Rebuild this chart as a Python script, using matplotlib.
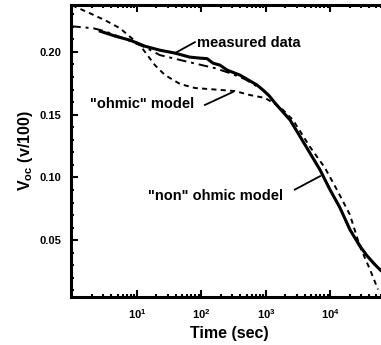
import numpy as np
import matplotlib
matplotlib.use("Agg")
import matplotlib.pyplot as plt
from matplotlib.ticker import LogLocator, MultipleLocator, NullFormatter

plt.rcParams['font.family'] = 'Liberation Sans'
plt.rcParams['font.weight'] = 'bold'
plt.rcParams['axes.labelweight'] = 'bold'
plt.rcParams['mathtext.default'] = 'regular'

# measured data (time in sec, Voc in V/100)
t_meas = [2.7, 4.6, 7.8, 13.3, 22.7, 38.8, 66, 95, 122, 151, 194, 249, 395,
          725, 900, 1100, 1380, 1700, 2360, 3000, 4030, 5200, 6880, 9820,
          14000, 20000, 28000, 36800, 48000, 61000, 70000]
v_meas = [0.2164, 0.2125, 0.2093, 0.2045, 0.2013, 0.1990, 0.1958, 0.1950,
          0.1946, 0.1910, 0.1894, 0.1855, 0.1815, 0.1736, 0.1696, 0.1655,
          0.1593, 0.1540, 0.1458, 0.1370, 0.1260, 0.1165, 0.1061, 0.0903,
          0.0760, 0.0585, 0.0460, 0.0377, 0.0310, 0.0257, 0.0235]

# "ohmic" model
t_ohm = [0.98, 1.87, 3.19, 5.45, 11.1, 19.0, 27.2, 46.5, 79.3, 162, 330, 565,
         965, 1650, 2620, 4800, 8200, 12600, 20000, 28700, 41000, 54500]
v_ohm = [0.2371, 0.2307, 0.2252, 0.2188, 0.2053, 0.1894, 0.1815, 0.1744,
         0.1712, 0.1700, 0.1688, 0.1656, 0.1633, 0.1561, 0.1458, 0.1244,
         0.1077, 0.0902, 0.0704, 0.0449, 0.0267, 0.0108]

# "non" ohmic model
t_non = [0.95, 2.09, 3.19, 6.0, 13.3, 22.7, 55.4, 162, 275, 470, 900, 1380,
         2360, 4030, 6880, 9820, 14000, 20000, 36800, 61000, 70000]
v_non = [0.2204, 0.2188, 0.2164, 0.2110, 0.2037, 0.1974, 0.1926, 0.1870,
         0.1831, 0.1783, 0.1696, 0.1593, 0.1458, 0.1260, 0.1061, 0.0903,
         0.0760, 0.0585, 0.0377, 0.0257, 0.0235]

fig = plt.figure(figsize=(3.81, 3.45), dpi=100)
ax = fig.add_axes([71 / 381, 48 / 345, 317.5 / 381, 292 / 345])

ax.plot(t_meas, v_meas, color='black', lw=2.2, solid_joinstyle='round')
ax.plot(t_non, v_non, color='black', lw=1.4, linestyle=(0, (5, 2.5, 1.5, 2.5)))
ax.plot(t_ohm, v_ohm, color='black', lw=1.4, linestyle=(0, (2.6, 2.2)))

ax.set_xscale('log')
ax.set_xlim(10 ** -0.023, 10 ** 4.9)
ax.set_ylim(0.0048, 0.2373)

ax.xaxis.set_major_locator(LogLocator(base=10, numticks=10))
ax.xaxis.set_minor_locator(LogLocator(base=10, subs=np.arange(2, 10), numticks=20))
ax.xaxis.set_minor_formatter(NullFormatter())
ax.yaxis.set_minor_locator(MultipleLocator(0.01))
ax.set_yticks([0.05, 0.10, 0.15, 0.20])
ax.set_yticklabels(['0.05', '0.10', '0.15', '0.20'])
ax.set_xticks([10, 100, 1000, 10000])
ax.set_xticklabels([r'$10^{1}$', r'$10^{2}$', r'$10^{3}$', r'$10^{4}$'])

ax.tick_params(which='both', direction='in', top=True, right=False, width=1.5,
               labelsize=8)
ax.tick_params(which='major', length=5, pad=7)
ax.tick_params(which='minor', length=2.5)
for side in ['left', 'bottom', 'top']:
    ax.spines[side].set_linewidth(2.2)
ax.spines['right'].set_visible(False)

ax.set_xlabel('Time (sec)', fontsize=11.5, fontweight='bold', labelpad=4)
ax.set_ylabel(r'V$_{oc}$ (v/100)', fontsize=11.5, fontweight='bold', labelpad=3)

ax.text(85, 0.2072, 'measured data', fontsize=10.5, va='center')
ax.plot([79, 38.8], [0.2077, 0.1990], color='black', lw=1.3)
ax.text(1.9, 0.1587, '"ohmic" model', fontsize=10.5, va='center')
ax.plot([113, 306], [0.1577, 0.1680], color='black', lw=1.3)
ax.text(14.8, 0.0852, '"non" ohmic model', fontsize=10.5, va='center')
ax.plot([2800, 6900], [0.0903, 0.1010], color='black', lw=1.3)

fig.savefig('out.png', dpi=100)
